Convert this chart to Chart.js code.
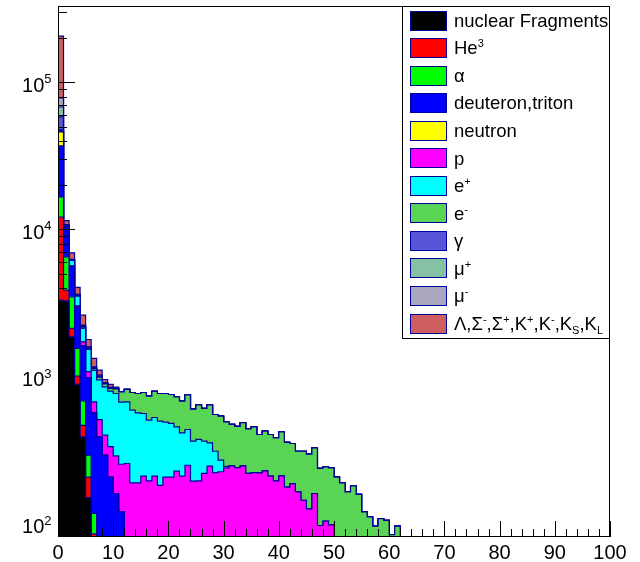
<!DOCTYPE html>
<html>
<head>
<meta charset="utf-8">
<script src="https://cdn.jsdelivr.net/npm/chart.js@4.4.1/dist/chart.umd.min.js"></script>
<style>
  html, body { margin:0; padding:0; background:#fff; }
  #wrap { width:640px; height:562px; }
</style>
</head>
<body>
<div id="wrap"><canvas id="chart" width="640" height="562"></canvas></div>
<script>
// ---------- binning / axis range ----------
const nBins = 100;
const xMin = 0, xMax = 100;
const yMin = 81, yMax = 330000;
const xTickLabels = [0, 10, 20, 30, 40, 50, 60, 70, 80, 90, 100];
const yDecades = [2, 3, 4, 5];

// ---------- bin contents per species (bin i = [i, i+1]), trailing bins are empty ----------
const nuclearFragments = [3300, 3260, 1860, 885, 388, 150, 20];
const he3 = [8800, 600, 260, 120, 77, 57, 65];
const alpha = [4500, 2650, 1360, 545, 218, 85, 32];
const deuteronTriton = [20300, 3790, 2090, 1400, 932, 686, 448, 388, 292, 207, 160, 120];
const neutron = [9000, 60, 30, 10, 5, 2];
const proton = [400, 60, 40, 60, 100, 100, 106, 121, 107, 126, 128, 133,
  256, 189, 189, 210, 195, 210, 182, 207, 207, 227, 210, 249, 194, 195, 219, 246, 222, 225,
  239, 247, 240, 247, 219, 222, 221, 228, 210, 195, 211, 177, 187, 164, 144, 126, 160, 97, 104, 98];
const positron = [500, 180, 500, 490, 400, 450, 430, 440, 451, 462, 478, 417,
  416, 401, 376, 350, 309, 316, 315, 282, 272, 227, 204, 187, 169, 178, 144, 107, 88, 45, 6];
const electron = [600, 60, 30, 30, 40, 25, 30, 40, 40, 35, 57, 116,
  144, 188, 201, 218, 231, 265, 269, 277, 275, 273, 265, 314, 236, 268, 243, 288, 241, 267,
  245, 225, 218, 238, 221, 232, 182, 197, 193, 187, 209, 179, 163, 146, 166, 170, 167, 140, 139, 141,
  207, 189, 164, 180, 158, 120, 111, 96, 108, 105, 84, 96];
const gamma = [10700, 50, 30, 30, 30, 14, 12, 12, 6, 5, 4];
const muPlus = [9800, 40, 20, 20, 20, 10, 8, 10, 5, 4, 3];
const muMinus = [10300, 40, 30, 20, 25, 10, 10, 9, 4, 3, 3];
const strange = [128000, 660, 680, 420, 375, 194, 164, 84, 48, 40, 15];

// stack order: first = bottom
const species = ["nuclear Fragments", "He^{3}", "α", "deuteron,triton", "neutron", "p",
  "e^{+}", "e^{-}", "γ", "μ^{+}", "μ^{-}", "Λ,Σ^{-},Σ^{+},K^{+},K^{-},K_{S},K_{L}"];
const series = [nuclearFragments, he3, alpha, deuteronTriton, neutron, proton,
  positron, electron, gamma, muPlus, muMinus, strange];
const fillColors = ["#000000", "#ff0000", "#00ff00", "#0000ff", "#ffff00", "#ff00ff",
  "#00ffff", "#59d454", "#5954d9", "#85c2a3", "#aba6bf", "#cf5e61"];
const lineColor = "#000099";
const fontFamily = "'Liberation Sans', Arial, Helvetica, sans-serif";

// log axis can't show 0: empty stack levels are parked below the visible range (clipped)
const hiddenLevel = 10;

// ---------- helpers ----------
function binValue(values, i){
  return i < values.length ? values[i] : 0;
}

// stacked histogram outline of species k (sum of species 0..k) as step points on bin edges
function stackSteps(k){
  const pts = [];
  for(let i=0;i<nBins;i++){
    let sum = 0;
    for(let j=0;j<=k;j++) sum += binValue(series[j], i);
    pts.push({x: xMin + i*(xMax-xMin)/nBins, y: Math.max(sum, hiddenLevel)});
  }
  pts.push({x: xMax, y: hiddenLevel});
  return pts;
}

function parseLatex(str){
  const parts = [];
  const re = /([\^_])\{([^}]*)\}/g;
  let last = 0, m;
  while((m = re.exec(str))){
    if(m.index > last) parts.push({t: str.slice(last, m.index), s: 0});
    parts.push({t: m[2], s: m[1] === "^" ? 1 : -1});
    last = re.lastIndex;
  }
  if(last < str.length) parts.push({t: str.slice(last), s: 0});
  return parts;
}

function richWidth(ctx, str, size, small){
  let w = 0;
  parseLatex(str).forEach(p=>{
    ctx.font = (p.s ? small : size) + "px " + fontFamily;
    w += ctx.measureText(p.t).width;
  });
  return w;
}

function drawRich(ctx, str, x, y, size, small, supShift, subShift){
  parseLatex(str).forEach(p=>{
    ctx.font = (p.s ? small : size) + "px " + fontFamily;
    const dy = p.s === 1 ? -supShift : (p.s === -1 ? subShift : 0);
    ctx.fillText(p.t, x, y + dy);
    x += ctx.measureText(p.t).width;
  });
}

// ---------- frame, inward ticks, y labels, legend (ROOT style) ----------
const rootStyle = {
  id: "rootStyle",
  afterDatasetsDraw(chart){
    const ctx = chart.ctx;
    const a = chart.chartArea;
    const xs = chart.scales.x, ys = chart.scales.y;
    ctx.save();
    ctx.strokeStyle = "#000";
    ctx.lineWidth = 1;

    // x ticks (every 2, long every 10)
    ctx.beginPath();
    for(let v=xMin; v<=xMax; v+=2){
      const px = Math.round(xs.getPixelForValue(v)) + 0.5;
      const len = v % 10 === 0 ? 16 : 8;
      ctx.moveTo(px, a.bottom);
      ctx.lineTo(px, a.bottom - len);
    }
    // y ticks (log, 1..9 per decade)
    for(let e=1; e<=5; e++){
      for(let k=1; k<=9; k++){
        const v = k*Math.pow(10, e);
        if(v < yMin || v > yMax) continue;
        const py = Math.round(ys.getPixelForValue(v)) + 0.5;
        ctx.moveTo(a.left, py);
        ctx.lineTo(a.left + (k === 1 ? 17 : 9), py);
      }
    }
    ctx.stroke();

    // frame
    ctx.strokeRect(a.left + 0.5, a.top + 0.5, a.right - a.left - 1, a.bottom - a.top - 1);

    // y labels 10^n
    ctx.fillStyle = "#000";
    ctx.textBaseline = "alphabetic";
    ctx.textAlign = "left";
    yDecades.forEach(e=>{
      const py = ys.getPixelForValue(Math.pow(10, e));
      const txt = "10^{" + e + "}";
      const w = richWidth(ctx, txt, 20, 13);
      drawRich(ctx, txt, a.left - 6.5 - w, py + 9.5, 20, 13, 8.4, 4);
    });

    // legend
    const lg = {left: 402.5, top: a.top + 0.5, right: a.right - 0.5, bottom: 338.5};
    ctx.fillStyle = "#fff";
    ctx.fillRect(lg.left, lg.top, lg.right - lg.left, lg.bottom - lg.top);
    ctx.strokeStyle = "#000";
    ctx.strokeRect(lg.left, lg.top, lg.right - lg.left, lg.bottom - lg.top);
    const rowH = 27.55;
    species.forEach((name, i)=>{
      const cy = 20 + i*rowH;
      ctx.fillStyle = fillColors[i];
      ctx.fillRect(410.5, Math.round(cy - 9.5) + 0.5, 36, 19);
      ctx.strokeStyle = lineColor;
      ctx.strokeRect(410.5, Math.round(cy - 9.5) + 0.5, 36, 19);
      ctx.fillStyle = "#000";
      drawRich(ctx, name, 454, cy + 6.8, 18.5, 11, 7, 4);
    });
    ctx.restore();
  }
};

// ---------- chart ----------
const datasets = series.map((vals, i)=>({
  label: species[i],
  data: stackSteps(i),
  stepped: "before",
  borderColor: lineColor,
  borderWidth: 1.2,
  backgroundColor: fillColors[i],
  fill: i === 0 ? "start" : "-1",
  pointRadius: 0,
  tension: 0
}));

new Chart(document.getElementById("chart"), {
  type: "line",
  data: { datasets },
  options: {
    responsive: false,
    devicePixelRatio: 1,
    animation: false,
    layout: { padding: { top: 6, right: 30, left: 0, bottom: 0 } },
    plugins: { legend: { display: false }, tooltip: { enabled: false } },
    scales: {
      x: {
        type: "linear", min: xMin, max: xMax,
        grid: { display: false, drawTicks: false },
        border: { display: false },
        afterBuildTicks: s => { s.ticks = xTickLabels.map(v=>({value: v})); },
        afterFit: s => { s.height = 25; },
        ticks: {
          autoSkip: false, maxRotation: 0, padding: 4, color: "#000",
          font: { family: fontFamily, size: 20 }
        }
      },
      y: {
        type: "logarithmic", min: yMin, max: yMax,
        grid: { display: false, drawTicks: false },
        border: { display: false },
        ticks: { display: false },
        afterFit: s => { s.width = 58; }
      }
    }
  },
  plugins: [rootStyle]
});
</script>
</body>
</html>
